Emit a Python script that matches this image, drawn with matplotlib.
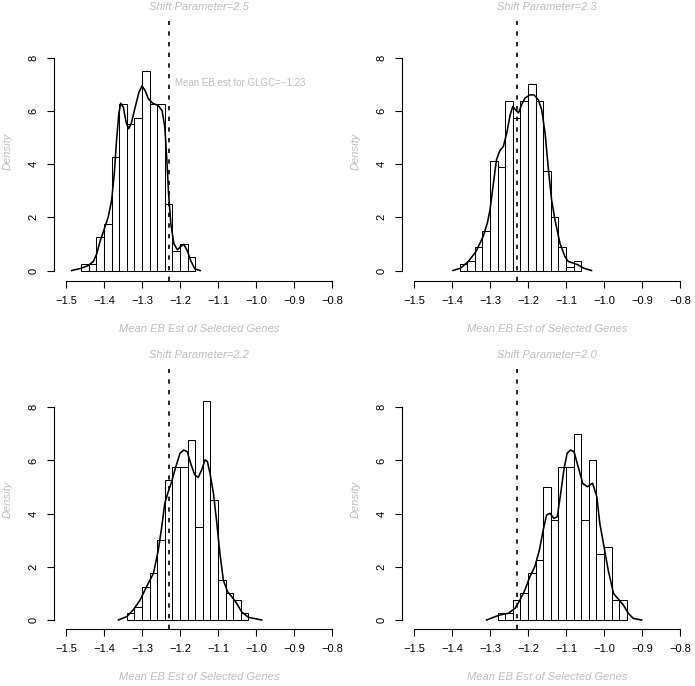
import matplotlib
matplotlib.use('Agg')
import matplotlib.pyplot as plt
import numpy as np

plt.rcParams['font.family'] = ['Liberation Sans', 'DejaVu Sans']

# ---- data
shift_params = ['2.5', '2.3', '2.2', '2.0']
glgc_mean = -1.23

bin_width = 0.02
bin_start = [-1.46, -1.38, -1.34, -1.28]
dens_25 = [0.25, 0.25, 1.25, 1.75, 4.25, 6.25, 5.5, 5.75, 7.5, 6.25, 6.25, 2.5, 0.75, 1.0, 0.5]
dens_23 = [0.25, 0.375, 0.875, 1.5, 4.125, 3.875, 6.375, 5.75, 6.375, 7.0, 6.375, 3.75, 2.0,
           0.875, 0.125, 0.375]
dens_22 = [0.25, 0.5, 1.25, 1.75, 3.0, 5.25, 5.75, 5.75, 6.75, 3.5, 8.25, 4.5, 1.5, 1.0, 0.75, 0.25]
dens_20 = [0.25, 0.25, 0.75, 1.0, 1.75, 2.25, 5.0, 3.75, 5.75, 5.75, 7.0, 3.75, 6.0, 2.5, 2.75,
           0.75, 0.75]

# kernel density curves (x, y)
kde_x_25 = [-1.485, -1.461, -1.441, -1.428, -1.419, -1.411, -1.400, -1.389, -1.380, -1.373,
            -1.367, -1.361, -1.356, -1.349, -1.342, -1.335, -1.328, -1.318, -1.308, -1.300,
            -1.292, -1.283, -1.272, -1.257, -1.247, -1.240, -1.235, -1.230, -1.224, -1.216,
            -1.207, -1.198, -1.190, -1.181, -1.172, -1.161, -1.147]
kde_y_25 = [0.0, 0.08, 0.19, 0.34, 0.63, 1.07, 1.53, 2.0, 2.63, 3.63,
            4.89, 5.89, 6.29, 6.14, 5.58, 5.33, 5.54, 6.14, 6.7, 6.94,
            6.77, 6.45, 6.29, 6.2, 6.0, 5.39, 4.26, 2.88, 1.75, 1.0,
            0.78, 0.9, 0.98, 0.75, 0.38, 0.06, 0.0]
kde_x_23 = [-1.397, -1.377, -1.357, -1.337, -1.318, -1.307, -1.300, -1.291, -1.283, -1.274,
            -1.265, -1.256, -1.247, -1.240, -1.233, -1.225, -1.217, -1.208, -1.195, -1.184,
            -1.173, -1.164, -1.155, -1.147, -1.138, -1.129, -1.116, -1.103, -1.094, -1.081,
            -1.068, -1.054, -1.033]
kde_y_23 = [0.0, 0.09, 0.34, 0.71, 1.28, 1.78, 2.28, 3.28, 4.16, 4.51,
            4.66, 5.16, 5.85, 6.17, 6.04, 5.92, 6.23, 6.48, 6.6, 6.6,
            6.42, 6.04, 5.16, 3.91, 2.66, 1.9, 1.03, 0.53, 0.34, 0.28,
            0.21, 0.09, 0.0]
kde_x_22 = [-1.362, -1.340, -1.323, -1.305, -1.288, -1.270, -1.257, -1.248, -1.240, -1.231,
            -1.222, -1.211, -1.200, -1.190, -1.181, -1.172, -1.161, -1.152, -1.143, -1.134,
            -1.128, -1.121, -1.112, -1.104, -1.095, -1.086, -1.075, -1.064, -1.051, -1.038,
            -1.020, -0.985]
kde_y_22 = [0.0, 0.13, 0.38, 0.75, 1.25, 1.75, 2.63, 3.51, 4.39, 4.82,
            5.2, 5.76, 6.27, 6.39, 6.33, 5.89, 5.45, 5.36, 5.64, 6.02,
            5.96, 5.51, 4.76, 3.76, 2.51, 1.5, 1.07, 0.88, 0.63, 0.31,
            0.1, 0.0]
kde_x_20 = [-1.309, -1.291, -1.274, -1.252, -1.234, -1.221, -1.208, -1.195, -1.182, -1.170,
            -1.160, -1.151, -1.142, -1.132, -1.123, -1.114, -1.105, -1.097, -1.088, -1.079,
            -1.068, -1.056, -1.044, -1.030, -1.019, -1.011, -1.000, -0.989, -0.975, -0.962,
            -0.949, -0.936, -0.923, -0.901]
kde_y_20 = [0.0, 0.1, 0.19, 0.25, 0.44, 0.75, 1.13, 1.63, 2.01, 2.63,
            3.38, 3.95, 4.01, 3.82, 3.88, 4.76, 5.7, 6.27, 6.39, 6.33,
            5.76, 5.14, 5.01, 5.14, 4.64, 3.63, 2.76, 1.88, 1.0, 0.78,
            0.56, 0.25, 0.06, 0.0]

dens = [dens_25, dens_23, dens_22, dens_20]
kde_x = [kde_x_25, kde_x_23, kde_x_22, kde_x_20]
kde_y = [kde_y_25, kde_y_23, kde_y_22, kde_y_20]

x_ticks = [-1.5, -1.4, -1.3, -1.2, -1.1, -1.0, -0.9, -0.8]
y_ticks = [0, 2, 4, 6, 8]

# ---- layout (pixels)
W, H = 695, 686
grey = '#bebebe'
px_unit = 26.6          # pixels per density unit
fig = plt.figure(figsize=(W / 100, H / 100), dpi=100)

for i in range(4):
    col, row = i % 2, i // 2
    left = 54 + 348 * col
    top = 21 + 348 * row
    w, h = 290, 260
    bottom = top + h
    zero = 270.5 + 349.5 * row
    ax = fig.add_axes([left / W, 1 - bottom / H, w / W, h / H])
    ax.set_xlim(-1.5 - 12 / 380, -0.8 + 12 / 380)
    ax.set_ylim(-(bottom - zero) / px_unit, (zero - top) / px_unit)

    edges = bin_start[i] + bin_width * np.arange(len(dens[i]))
    ax.bar(edges, dens[i], width=bin_width, align='edge', facecolor='white',
           edgecolor='black', linewidth=0.75)
    ax.plot(kde_x[i], kde_y[i], color='black', linewidth=1.15)
    ax.axvline(glgc_mean, color='black', linewidth=1.2, linestyle=(0, (2.6, 3.8)))

    for s in ['top', 'right']:
        ax.spines[s].set_visible(False)
    ax.spines['left'].set_bounds(0, 8)
    ax.spines['bottom'].set_bounds(-1.5, -0.8)
    ax.spines['left'].set_linewidth(0.8)
    ax.spines['bottom'].set_linewidth(0.8)
    ax.set_xticks(x_ticks)
    ax.set_xticklabels([('%.1f' % v).replace('-', '\u2212') for v in x_ticks])
    ax.set_yticks(y_ticks)
    ax.tick_params(length=5, width=0.8, labelsize=8, pad=6)
    for lab in ax.get_yticklabels():
        lab.set_rotation(90)
        lab.set_va('center')

    cx = left + w / 2
    fig.text(cx / W, 1 - 7 / H - row * 348 / H, 'Shift Parameter=' + shift_params[i],
             ha='center', va='center', style='italic', color=grey, fontsize=8)
    fig.text(cx / W, 1 - 329 / H - row * 348 / H, 'Mean EB Est of Selected Genes',
             ha='center', va='center', style='italic', color=grey, fontsize=8)
    fig.text((left - 46) / W, 1 - (top + h / 2) / H, 'Density', rotation=90,
             ha='center', va='center', style='italic', color=grey, fontsize=8)

    if i == 0:
        ax.text(glgc_mean + 0.016, 7.05, 'Mean EB est for GLGC=\u22121.23',
                ha='left', va='center', color=grey, fontsize=7)

fig.savefig('out.png', dpi=100)
